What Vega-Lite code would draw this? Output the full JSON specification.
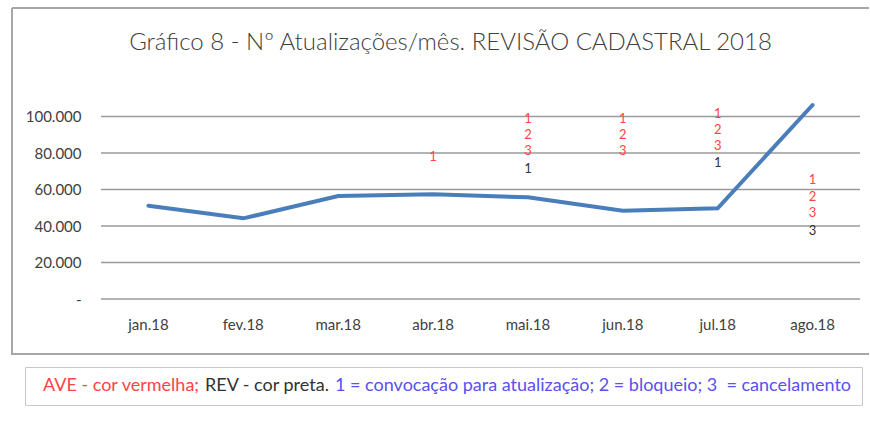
{
  "$schema": "https://vega.github.io/schema/vega-lite/v6.json",
  "width": 857,
  "height": 346,
  "padding": {"left": 12, "top": 8, "right": 1, "bottom": 0},
  "autosize": {"type": "pad"},
  "background": "white",
  "title": {
    "text": "Gráfico 8 - Nº Atualizações/mês. REVISÃO CADASTRAL 2018",
    "offset": -47,
    "dx": 10,
    "fontSize": 24,
    "font": "Lato",
    "fontWeight": 300,
    "color": "#404040",
    "anchor": "middle"
  },
  "config": {
    "view": {"stroke": "#a6a6a6", "strokeWidth": 2, "strokeDash": [857, 346, 1203, 0]},
    "font": "Lato"
  },
  "datasets": {
    "serie": [
      {"mes": "jan.18", "valor": 51100},
      {"mes": "fev.18", "valor": 44200},
      {"mes": "mar.18", "valor": 56400},
      {"mes": "abr.18", "valor": 57400},
      {"mes": "mai.18", "valor": 55700},
      {"mes": "jun.18", "valor": 48400},
      {"mes": "jul.18", "valor": 49700},
      {"mes": "ago.18", "valor": 106300}
    ],
    "anot": [
      {"mes": "abr.18", "valor": 77900, "rotulo": "1", "tipo": "AVE"},
      {"mes": "mai.18", "valor": 98900, "rotulo": "1", "tipo": "AVE"},
      {"mes": "mai.18", "valor": 89700, "rotulo": "2", "tipo": "AVE"},
      {"mes": "mai.18", "valor": 81000, "rotulo": "3", "tipo": "AVE"},
      {"mes": "mai.18", "valor": 71500, "rotulo": "1", "tipo": "REV"},
      {"mes": "jun.18", "valor": 98900, "rotulo": "1", "tipo": "AVE"},
      {"mes": "jun.18", "valor": 89700, "rotulo": "2", "tipo": "AVE"},
      {"mes": "jun.18", "valor": 81000, "rotulo": "3", "tipo": "AVE"},
      {"mes": "jul.18", "valor": 101600, "rotulo": "1", "tipo": "AVE"},
      {"mes": "jul.18", "valor": 92500, "rotulo": "2", "tipo": "AVE"},
      {"mes": "jul.18", "valor": 83700, "rotulo": "3", "tipo": "AVE"},
      {"mes": "jul.18", "valor": 74300, "rotulo": "1", "tipo": "REV"},
      {"mes": "ago.18", "valor": 65100, "rotulo": "1", "tipo": "AVE"},
      {"mes": "ago.18", "valor": 56000, "rotulo": "2", "tipo": "AVE"},
      {"mes": "ago.18", "valor": 46900, "rotulo": "3", "tipo": "AVE"},
      {"mes": "ago.18", "valor": 37400, "rotulo": "3", "tipo": "REV"}
    ],
    "grade": [
      {"valor": 0}, {"valor": 20000}, {"valor": 40000}, {"valor": 60000}, {"valor": 80000}, {"valor": 100000}
    ]
  },
  "encoding": {
    "x": {
      "field": "mes",
      "type": "nominal",
      "scale": {
        "type": "band",
        "domain": ["jan.18", "fev.18", "mar.18", "abr.18", "mai.18", "jun.18", "jul.18", "ago.18"],
        "range": [89, 848],
        "paddingInner": 0,
        "paddingOuter": 0
      },
      "axis": {
        "title": null,
        "labelAngle": 0,
        "ticks": false,
        "domain": false,
        "grid": false,
        "offset": -37,
        "labelPadding": 0,
        "labelFontSize": 15,
        "labelColor": "#404040"
      }
    },
    "y": {
      "field": "valor",
      "type": "quantitative",
      "scale": {"domain": [0, 120000], "range": [291, 72], "nice": false, "zero": true},
      "axis": {
        "title": null,
        "values": [0, 20000, 40000, 60000, 80000, 100000],
        "labelExpr": "datum.value == 0 ? '-  ' : format(datum.value / 1000, 'd') + '.000'",
        "ticks": false,
        "domain": false,
        "grid": false,
        "offset": -72,
        "labelPadding": 3,
        "labelFontSize": 15,
        "labelColor": "#404040"
      }
    }
  },
  "layer": [
    {
      "data": {"name": "grade"},
      "mark": {"type": "rule", "color": "#9a9a9a", "strokeWidth": 1.5},
      "encoding": {
        "x": {"datum": "jan.18", "type": "nominal", "bandPosition": 0},
        "x2": {"datum": "ago.18", "bandPosition": 1}
      }
    },
    {
      "data": {"name": "serie"},
      "mark": {"type": "line", "color": "#4a7ebb", "strokeWidth": 4, "strokeCap": "round", "strokeJoin": "miter"},
      "encoding": {
        "x": {"field": "mes", "type": "nominal", "bandPosition": 0.5}
      }
    },
    {
      "data": {"name": "anot"},
      "mark": {"type": "text", "fontSize": 13, "baseline": "middle", "align": "center"},
      "encoding": {
        "x": {"field": "mes", "type": "nominal", "bandPosition": 0.5},
        "text": {"field": "rotulo"},
        "color": {
          "field": "tipo",
          "type": "nominal",
          "scale": {"domain": ["AVE", "REV"], "range": ["#ff4444", "#333333"]},
          "legend": {
            "orient": "none",
            "legendX": 13,
            "legendY": 359,
            "direction": "horizontal",
            "gridAlign": "none",
            "title": "1 = convocação para atualização; 2 = bloqueio; 3\u00a0 = cancelamento",
            "titleOrient": "right",
            "titleColor": "#5a50f0",
            "titleFontSize": 18,
            "titleFontWeight": "normal",
            "titleLimit": 2000,
            "titlePadding": 5,
            "labelFontSize": 18,
            "labelLimit": 1000,
            "labelExpr": "datum.value == 'AVE' ? 'AVE - cor vermelha;' : 'REV - cor preta.'",
            "symbolSize": 0,
            "symbolOpacity": 0,
            "symbolStrokeWidth": 0,
            "labelOffset": -10,
            "columnPadding": -3,
            "strokeColor": "#c8c8c8",
            "fillColor": "white",
            "padding": 10,
            "encode": {"labels": {"update": {"fill": {"scale": "color", "field": "value"}}}}
          }
        }
      }
    }
  ]
}
